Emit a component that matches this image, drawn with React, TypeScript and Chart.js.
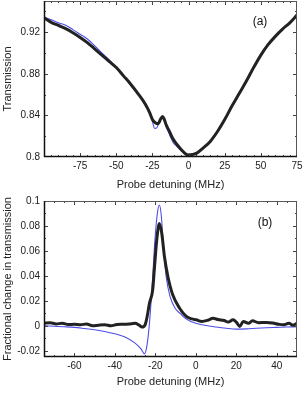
import React, { useEffect, useRef } from "react";
import { Chart, registerables } from "chart.js";

Chart.register(...registerables);

// ---- Panel (a): transmission vs probe detuning ----
const aDataX = [-100, -95, -90, -85, -80, -75, -70, -65, -60, -55, -50, -45, -40, -35, -30, -27, -25, -23, -21, -19.5, -18, -17, -15.5, -13, -11, -8, -5, -2, 0, 3, 6, 10, 15, 20, 25, 30, 35, 40, 45, 50, 55, 60, 65, 70, 75];
const aDataY = [0.934, 0.9295, 0.9265, 0.9234, 0.9195, 0.915, 0.910, 0.904, 0.898, 0.892, 0.886, 0.878, 0.870, 0.861, 0.851, 0.843, 0.836, 0.833, 0.832, 0.836, 0.839, 0.837, 0.831, 0.824, 0.818, 0.812, 0.807, 0.803, 0.802, 0.8025, 0.804, 0.8085, 0.815, 0.8245, 0.836, 0.849, 0.861, 0.873, 0.886, 0.898, 0.908, 0.916, 0.923, 0.929, 0.9365];
const aFitX = [-100, -95, -90, -85, -80, -75, -70, -65, -60, -55, -50, -45, -40, -35, -30, -27, -25, -23.5, -22, -20.5, -19, -18, -17, -15.5, -13, -11, -8, -5, -2, 0, 3, 6, 10, 15, 20, 25, 30, 35, 40, 45, 50, 55, 60, 65, 70, 75];
const aFitY = [0.9345, 0.932, 0.929, 0.9266, 0.9225, 0.918, 0.9135, 0.907, 0.900, 0.8936, 0.886, 0.878, 0.869, 0.8605, 0.850, 0.842, 0.834, 0.8275, 0.828, 0.833, 0.838, 0.839, 0.836, 0.829, 0.821, 0.8147, 0.810, 0.806, 0.8025, 0.8015, 0.802, 0.804, 0.8085, 0.815, 0.8245, 0.836, 0.849, 0.861, 0.873, 0.886, 0.898, 0.908, 0.916, 0.923, 0.929, 0.9365];
const aXTicks = [-75, -50, -25, 0, 25, 50, 75];
const aYTicks = [0.8, 0.84, 0.88, 0.92];

// ---- Panel (b): fractional change in transmission ----
const bDataX = [-75, -72, -69, -66, -63, -60, -57, -54, -51, -48, -45, -42, -39, -36, -33, -30, -28, -26.5, -25, -24.2, -22.9, -21.3, -20.4, -19.3, -18, -16.8, -15.5, -13.8, -11.4, -8, -4.7, -2, 0.2, 3, 6, 8.5, 11, 14, 16, 18.4, 20, 21.7, 23.5, 26, 28, 31, 35, 38, 41, 43.2, 46, 48, 50];
const bDataY = [0.002, 0.0025, 0.0015, 0.002, 0.001, 0.0012, 0.0008, 0.0015, 0.0, 0.0005, 0.0008, 0.0, 0.001, 0.0012, 0.0015, 0.002, 0.0005, -0.001, 0.001, 0.006, 0.018, 0.0288, 0.047, 0.0688, 0.082, 0.074, 0.0555, 0.0395, 0.0248, 0.0141, 0.0075, 0.0055, 0.0048, 0.0035, 0.0045, 0.006, 0.005, 0.0042, 0.003, 0.0048, 0.003, -0.0005, 0.0035, 0.002, 0.004, 0.0025, 0.0027, 0.0022, 0.0012, 0.0008, 0.002, 0.0005, 0.002];
const bFitX = [-75, -70, -65, -60, -55, -50, -45, -40, -35, -30, -27, -25.4, -24.2, -22.9, -21.3, -20.2, -19, -18, -17, -16, -14.6, -12.7, -10.2, -7.5, -5.2, -2.5, 0, 5, 10, 15, 20, 25, 30, 35, 40, 45, 50];
const bFitY = [0.0, -0.0004, -0.0008, -0.0013, -0.0022, -0.0032, -0.0045, -0.0064, -0.009, -0.0139, -0.0187, -0.0225, -0.0165, 0.002, 0.039, 0.0688, 0.090, 0.0968, 0.0874, 0.0634, 0.039, 0.0234, 0.0141, 0.0095, 0.006, 0.0035, 0.0021, 0.0002, -0.001, -0.002, -0.0027, -0.0025, -0.002, -0.0016, -0.0013, -0.001, -0.0008];
const bXTicks = [-60, -40, -20, 0, 20, 40];
const bYTicks = [-0.02, 0, 0.02, 0.04, 0.06, 0.08, 0.1];

const FONT = "'Liberation Sans', Arial, sans-serif";

function steps(min: number, max: number, step: number): number[] {
  const out: number[] = [];
  for (let v = min; v <= max + step * 1e-6; v += step) out.push(Math.round(v * 1e6) / 1e6);
  return out;
}

const framePlugin = {
  id: "frame",
  afterDatasetsDraw(chart: any, _args: any, opts: any) {
    const { ctx, chartArea } = chart;
    const { left, right, top, bottom } = chartArea;
    const xs = chart.scales.x;
    const ys = chart.scales.y;
    ctx.save();
    ctx.strokeStyle = "#444";
    ctx.lineWidth = 1;
    const xTick = (vals: number[], len: number) => {
      vals.forEach((v) => {
        const p = Math.round(xs.getPixelForValue(v)) + 0.5;
        if (p < left || p > right) return;
        ctx.beginPath();
        ctx.moveTo(p, bottom);
        ctx.lineTo(p, bottom - len);
        ctx.moveTo(p, top);
        ctx.lineTo(p, top + len);
        ctx.stroke();
      });
    };
    const yTick = (vals: number[], len: number) => {
      vals.forEach((v) => {
        const p = Math.round(ys.getPixelForValue(v)) + 0.5;
        if (p < top || p > bottom) return;
        ctx.beginPath();
        ctx.moveTo(left, p);
        ctx.lineTo(left + len, p);
        ctx.moveTo(right, p);
        ctx.lineTo(right - len, p);
        ctx.stroke();
      });
    };
    xTick(opts.xMinor, 2);
    xTick(opts.xMajor, 4);
    yTick(opts.yMinor, 2);
    yTick(opts.yMajor, 4);
    ctx.strokeStyle = "#555";
    ctx.strokeRect(left + 0.5, top + 0.5, right - left - 1, bottom - top - 1);
    ctx.strokeStyle = "#111";
    ctx.lineWidth = 1.5;
    ctx.beginPath();
    ctx.moveTo(left + 0.5, top);
    ctx.lineTo(left + 0.5, bottom - 0.5);
    ctx.lineTo(right, bottom - 0.5);
    ctx.stroke();
    ctx.fillStyle = "#111";
    ctx.font = "12px " + FONT;
    ctx.textAlign = "center";
    ctx.textBaseline = "middle";
    ctx.fillText(opts.label, right - opts.dx, top + opts.dy);
    ctx.restore();
  },
};

function makeConfig(p: any) {
  return {
    type: "line",
    data: {
      datasets: [
        {
          data: p.dataX.map((x: number, i: number) => ({ x, y: p.dataY[i] })),
          borderColor: "#222",
          borderWidth: 3,
          pointRadius: 0,
          cubicInterpolationMode: "monotone",
        },
        {
          data: p.fitX.map((x: number, i: number) => ({ x, y: p.fitY[i] })),
          borderColor: "#4d4de6",
          borderWidth: 1.1,
          pointRadius: 0,
          cubicInterpolationMode: "monotone",
        },
      ],
    },
    options: {
      animation: false,
      responsive: false,
      events: [],
      layout: { padding: p.padding },
      plugins: {
        legend: { display: false },
        tooltip: { enabled: false },
        frame: {
          xMajor: p.xTicks,
          yMajor: p.yTicks,
          xMinor: p.xMinor,
          yMinor: p.yMinor,
          label: p.label,
          dx: p.labelDx,
          dy: p.labelDy,
        },
      },
      scales: {
        x: {
          type: "linear",
          min: p.xMin,
          max: p.xMax,
          afterBuildTicks: (s: any) => {
            s.ticks = p.xTicks.map((v: number) => ({ value: v }));
          },
          afterFit: (s: any) => {
            s.height = p.xHeight;
            s.paddingLeft = 0;
            s.paddingRight = 0;
          },
          grid: { display: false, drawTicks: false },
          border: { display: false },
          ticks: {
            font: { size: 10, family: FONT },
            color: "#222",
            padding: 3,
            maxRotation: 0,
            autoSkip: false,
            callback: (v: number) => String(v),
          },
          title: {
            display: true,
            text: "Probe detuning (MHz)",
            font: { size: 11, family: FONT },
            color: "#222",
            padding: { top: 0, bottom: 0 },
          },
        },
        y: {
          type: "linear",
          min: p.yMin,
          max: p.yMax,
          afterBuildTicks: (s: any) => {
            s.ticks = p.yTicks.map((v: number) => ({ value: v }));
          },
          afterFit: (s: any) => {
            s.width = 44;
            s.paddingTop = 0;
            s.paddingBottom = 0;
          },
          grid: { display: false, drawTicks: false },
          border: { display: false },
          ticks: {
            font: { size: 10, family: FONT },
            color: "#222",
            padding: 4,
            autoSkip: false,
            callback: (v: number) => String(v),
          },
          title: {
            display: true,
            text: p.yTitle,
            font: { size: 11, family: FONT },
            color: "#222",
            padding: { top: 1, bottom: 0 },
          },
        },
      },
    },
    plugins: [framePlugin],
  } as any;
}

function Panel(props: { cfg: any; height: number; top: number }) {
  const ref = useRef<HTMLCanvasElement | null>(null);
  useEffect(() => {
    if (!ref.current) return;
    const chart = new Chart(ref.current, props.cfg);
    return () => chart.destroy();
  }, []);
  return (
    <canvas
      ref={ref}
      width={307}
      height={props.height}
      style={{ position: "absolute", left: 0, top: props.top, width: 307, height: props.height, display: "block" }}
    />
  );
}

export default function App() {
  useEffect(() => {
    document.body.style.margin = "0";
  }, []);
  const cfgA = makeConfig({
    dataX: aDataX,
    dataY: aDataY,
    fitX: aFitX,
    fitY: aFitY,
    xTicks: aXTicks,
    yTicks: aYTicks,
    xMinor: steps(-100, 75, 5),
    yMinor: steps(0.8, 0.94, 0.02),
    xMin: -100,
    xMax: 75,
    yMin: 0.8,
    yMax: 0.95,
    padding: { top: 1, right: 10, bottom: 0, left: 0 },
    xHeight: 35,
    yTitle: "Transmission",
    label: "(a)",
    labelDx: 37,
    labelDy: 21,
  });
  const cfgB = makeConfig({
    dataX: bDataX,
    dataY: bDataY,
    fitX: bFitX,
    fitY: bFitY,
    xTicks: bXTicks,
    yTicks: bYTicks,
    xMinor: steps(-75, 50, 5),
    yMinor: steps(-0.02, 0.1, 0.01),
    xMin: -75,
    xMax: 50,
    yMin: -0.025,
    yMax: 0.1,
    padding: { top: 9, right: 10, bottom: 4, left: 0 },
    xHeight: 32,
    yTitle: "Fractional change in transmission",
    label: "(b)",
    labelDx: 32,
    labelDy: 22,
  });
  return (
    <div style={{ position: "absolute", left: 0, top: 0, width: 307, height: 393, background: "#fff" }}>
      <Panel cfg={cfgA} height={192} top={0} />
      <Panel cfg={cfgB} height={201} top={192} />
    </div>
  );
}
